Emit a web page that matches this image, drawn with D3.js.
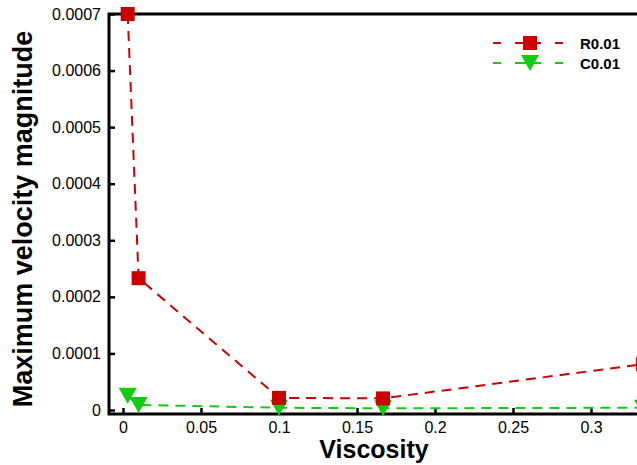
<!DOCTYPE html>
<html><head><meta charset="utf-8">
<script src="https://cdn.jsdelivr.net/npm/d3@7"></script>
<style>body{margin:0;background:#fff}svg{display:block}</style>
</head><body>
<svg id="c" width="637" height="465"></svg>
<script>
const viscosity = [0.003, 0.01, 0.1, 0.1667, 0.3333];
const seriesR = [0.0007, 0.000233, 0.0000215, 0.0000205, 0.000081];
const seriesC = [0.000025, 0.000009, 0.000004, 0.000003, 0.000004];
const seriesNames = ["R0.01", "C0.01"];
const xTicks = [0, 0.05, 0.1, 0.15, 0.2, 0.25, 0.3];
const yTicks = [0, 0.0001, 0.0002, 0.0003, 0.0004, 0.0005, 0.0006, 0.0007];

const svg = d3.select("#c");
const x = d3.scaleLinear().domain([0, 0.05]).range([123, 201]);
const y = d3.scaleLinear().domain([0, 0.0007]).range([410, 14]);
const fLeft = 109, fTop = 14, fBottom = 414, fRight = 700;
const font = "Liberation Sans, Arial, Helvetica, sans-serif";

// ticks (inward)
const xa = d3.axisBottom(x).tickValues(xTicks).tickSize(-6).tickPadding(8)
  .tickFormat(d => d3.format("")(+d.toFixed(2)));
const gx = svg.append("g").attr("transform", `translate(0,${fBottom})`).call(xa);
gx.select(".domain").remove();
gx.selectAll("line").attr("stroke", "#000").attr("stroke-width", 2.5);
gx.selectAll("text").attr("font-family", font).attr("font-size", 16).attr("fill", "#000");

const ya = d3.axisLeft(y).tickValues(yTicks).tickSize(-6).tickPadding(8)
  .tickFormat(d => d === 0 ? "0" : d.toFixed(4));
const gy = svg.append("g").attr("transform", `translate(${fLeft},0)`).call(ya);
gy.select(".domain").remove();
gy.selectAll("line").attr("stroke", "#000").attr("stroke-width", 2.5);
gy.selectAll("text").attr("font-family", font).attr("font-size", 16).attr("fill", "#000");

// frame
svg.append("path")
  .attr("d", `M${fRight},${fTop}H${fLeft}V${fBottom}H${fRight}`)
  .attr("fill", "none").attr("stroke", "#000").attr("stroke-width", 3);

// lines
const red = "#cc0000", green = "#11cc11";
const line = d3.line().x(d => x(d[0])).y(d => y(d[1]));
function drawSeries(vals, color, shape) {
  const pts = viscosity.map((v, i) => [v, vals[i]]);
  svg.append("path").datum(pts).attr("d", line)
    .attr("fill", "none").attr("stroke", color).attr("stroke-width", 2)
    .attr("stroke-dasharray", "10,7");
  svg.append("g").selectAll("path").data(pts).join("path")
    .attr("transform", d => `translate(${x(d[0])},${y(d[1])})`)
    .attr("d", shape).attr("fill", color);
}
const sq = "M-7,-7H7V7H-7Z";
const tri = "M-9,-8H9L0,8Z";
drawSeries(seriesC, green, tri);
drawSeries(seriesR, red, sq);

// legend
const legend = [[seriesNames[0], red, sq, 43], [seriesNames[1], green, tri, 63]];
legend.forEach(([name, color, shape, ly]) => {
  svg.append("line").attr("x1", 493).attr("x2", 566).attr("y1", ly).attr("y2", ly)
    .attr("stroke", color).attr("stroke-width", 2).attr("stroke-dasharray", "8,14,26,14,8");
  svg.append("path").attr("d", shape).attr("fill", color)
    .attr("transform", `translate(530,${ly})`);
  svg.append("text").attr("x", 580).attr("y", ly + 5.5).text(name)
    .attr("font-family", font).attr("font-size", 15).attr("font-weight", "bold");
});

// titles
svg.append("text").attr("x", 374).attr("y", 458).attr("text-anchor", "middle")
  .attr("font-family", font).attr("font-size", 25).attr("font-weight", "bold").text("Viscosity");
svg.append("text").attr("transform", "translate(32,219) rotate(-90)").attr("text-anchor", "middle")
  .attr("font-family", font).attr("font-size", 27).attr("font-weight", "bold").text("Maximum velocity magnitude");
</script>
</body></html>
